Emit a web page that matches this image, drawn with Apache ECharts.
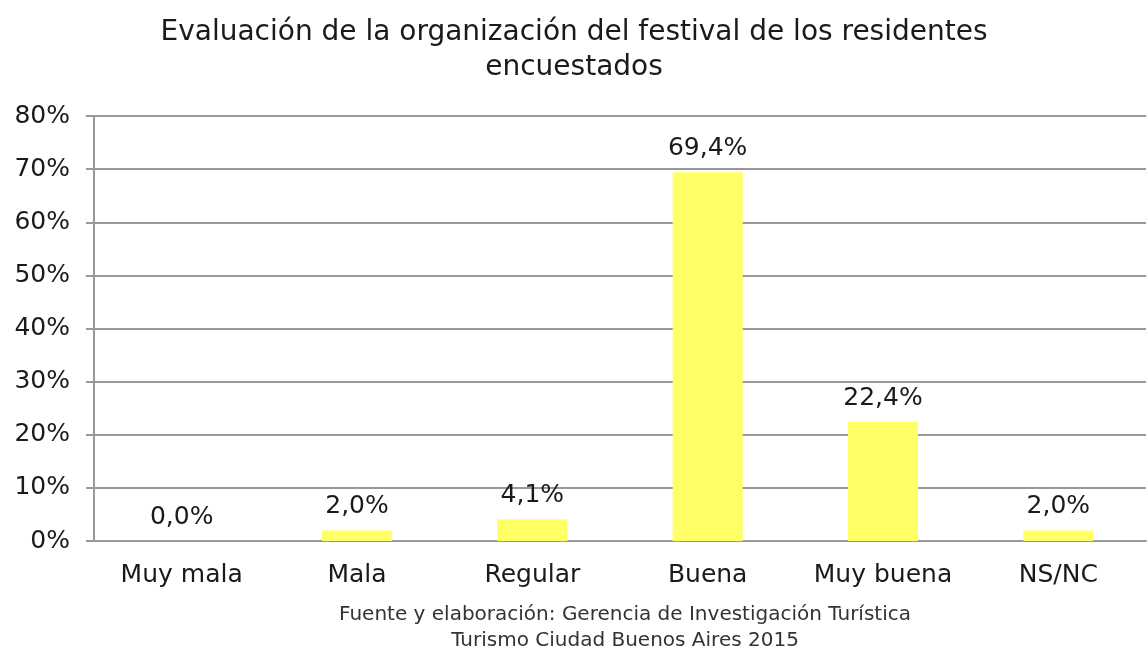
<!DOCTYPE html>
<html>
<head>
<meta charset="utf-8">
<script src="https://cdn.jsdelivr.net/npm/echarts@6/dist/echarts.min.js"></script>
<style>
html, body { margin: 0; padding: 0; background: #fff; }
#chart { width: 1148px; height: 648px; }
</style>
</head>
<body>
<div id="chart"></div>
<script>
// datos del grafico
var categorias = ['Muy mala', 'Mala', 'Regular', 'Buena', 'Muy buena', 'NS/NC'];
var valores = [0.0, 2.0, 4.1, 69.4, 22.4, 2.0];
var ticksY = [0, 10, 20, 30, 40, 50, 60, 70, 80];

var fuente = '"DejaVu Sans", sans-serif';
var myChart = echarts.init(document.getElementById('chart'));

var option = {
    animation: false,
    title: [{
        text: 'Evaluación de la organización del festival de los residentes\nencuestados',
        left: 'center',
        top: 10,
        textStyle: {
            fontFamily: fuente,
            fontWeight: 'normal',
            fontSize: 28,
            lineHeight: 35,
            color: '#1a1a1a'
        }
    }, {
        text: 'Fuente y elaboración: Gerencia de Investigación Turística\nTurismo Ciudad Buenos Aires 2015',
        left: 620,
        textAlign: 'center',
        top: 597,
        textStyle: {
            fontFamily: fuente,
            fontWeight: 'normal',
            fontSize: 20,
            lineHeight: 26,
            color: '#333'
        }
    }],
    grid: {
        left: 94,
        right: 2,
        top: 116,
        bottom: 107
    },
    xAxis: {
        type: 'category',
        data: categorias,
        axisTick: { show: false },
        axisLine: { lineStyle: { color: '#999', width: 2 } },
        axisLabel: {
            interval: 0,
            fontFamily: fuente,
            fontSize: 25,
            color: '#1a1a1a',
            margin: 22
        }
    },
    yAxis: {
        type: 'value',
        min: ticksY[0],
        max: ticksY[ticksY.length - 1],
        interval: 10,
        axisLine: { show: true, lineStyle: { color: '#999', width: 2 } },
        axisTick: { show: true, length: 8, lineStyle: { color: '#999', width: 2 } },
        splitLine: { lineStyle: { color: '#999', width: 2 } },
        axisLabel: {
            fontFamily: fuente,
            fontSize: 25,
            color: '#1a1a1a',
            margin: 24,
            formatter: '{value}%'
        }
    },
    series: [{
        type: 'bar',
        data: valores,
        barWidth: 70,
        itemStyle: { color: '#FFFF66' },
        label: {
            show: true,
            position: 'top',
            distance: 11,
            fontFamily: fuente,
            fontSize: 25,
            color: '#1a1a1a',
            formatter: function (p) {
                return p.value.toFixed(1).replace('.', ',') + '%';
            }
        }
    }]
};
myChart.setOption(option);
</script>
</body>
</html>
